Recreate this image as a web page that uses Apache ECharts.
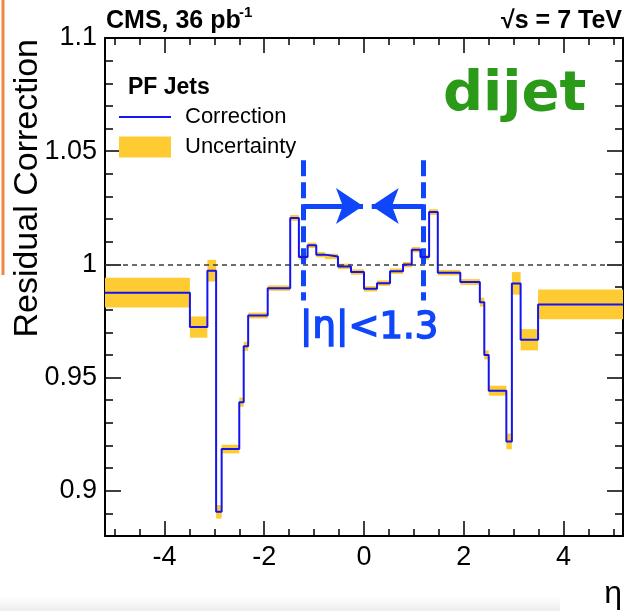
<!DOCTYPE html>
<html><head><meta charset="utf-8">
<script src="https://cdn.jsdelivr.net/npm/echarts@6/dist/echarts.min.js"></script>
<style>html,body{margin:0;padding:0;background:#fff}#c{width:625px;height:611px}</style>
</head><body><div id="c"></div>
<script>
// ---- data ----
const binEdges = [-5.191, -3.489, -3.139, -2.964, -2.853, -2.5, -2.411, -2.322, -1.93, -1.479, -1.305, -1.131, -0.957, -0.783, -0.522, -0.261, 0, 0.261, 0.522, 0.783, 0.957, 1.131, 1.305, 1.479, 1.93, 2.322, 2.411, 2.5, 2.853, 2.964, 3.139, 3.489, 5.191];
const correction = [0.9875, 0.9723, 0.9972, 0.8907, 0.9184, 0.9391, 0.9638, 0.9774, 0.9895, 1.0205, 1.0032, 1.0084, 1.0043, 1.0035, 0.9991, 0.9966, 0.9892, 0.9917, 0.9970, 0.9999, 1.0065, 1.0032, 1.0231, 0.9963, 0.9922, 0.9833, 0.9600, 0.9442, 0.9218, 0.9916, 0.9667, 0.9823];
const uncertainty = [0.0066, 0.0047, 0.0048, 0.0030, 0.0019, 0.0020, 0.0020, 0.0013, 0.0012, 0.0013, 0.0012, 0.0012, 0.0012, 0.0012, 0.0012, 0.0012, 0.0012, 0.0012, 0.0012, 0.0012, 0.0012, 0.0012, 0.0013, 0.0012, 0.0013, 0.0020, 0.0020, 0.0022, 0.0035, 0.0050, 0.0047, 0.0066];
const xMajorTicks = [-4, -2, 0, 2, 4];
const xMinorTicks = [-5, -4.5, -4, -3.5, -3, -2.5, -2, -1.5, -1, -0.5, 0, 0.5, 1, 1.5, 2, 2.5, 3, 3.5, 4, 4.5, 5];
const yMajorTicks = [0.9, 0.95, 1, 1.05, 1.1];
const yMinorTicks = [0.88, 0.89, 0.9, 0.91, 0.92, 0.93, 0.94, 0.95, 0.96, 0.97, 0.98, 0.99, 1, 1.01, 1.02, 1.03, 1.04, 1.05, 1.06, 1.07, 1.08, 1.09, 1.1];
// annotation (data coordinates)
const bracketEta = [-1.216, 1.188];
const bracketRange = [1.046, 0.984];
const arrowY = 1.0258;
const arrowTip = [-0.02, 0.155];
const refLine = 1;

const X_RANGE = [-5.191, 5.191];
const Y_RANGE = [0.88, 1.1];

const lineData = binEdges.slice(0, -1).map((e, i) => [e, correction[i]]);
lineData.push([binEdges[binEdges.length - 1], correction[correction.length - 1]]);
const bandData = correction.map((v, i) => [binEdges[i], binEdges[i + 1], v, uncertainty[i]]);

const FONT = "'Liberation Sans', Arial, Helvetica, sans-serif";
const HAND = "'Comic Sans MS', 'DejaVu Sans', sans-serif";
const BLUE = '#0f46fa';

function xAx(pos, ticks, len, labels, line) {
  return {
    type: 'value', gridIndex: 0, position: pos, min: X_RANGE[0], max: X_RANGE[1],
    axisLine: { show: line, onZero: false, lineStyle: { color: '#000', width: 2 } },
    axisTick: { show: true, inside: true, length: len, customValues: ticks, lineStyle: { color: '#000', width: 1.5 } },
    axisLabel: { show: labels, customValues: ticks, color: '#000', fontSize: 27, fontFamily: FONT, margin: 8 },
    splitLine: { show: false }
  };
}
function yAx(pos, ticks, len, labels, line) {
  return {
    type: 'value', gridIndex: 0, position: pos, min: Y_RANGE[0], max: Y_RANGE[1],
    axisLine: { show: line, onZero: false, lineStyle: { color: '#000', width: 2 } },
    axisTick: { show: true, inside: true, length: len, customValues: ticks, lineStyle: { color: '#000', width: 1.5 } },
    axisLabel: { show: labels, customValues: ticks, color: '#000', fontSize: 27, fontFamily: FONT, margin: 8 },
    splitLine: { show: false }
  };
}

const chart = echarts.init(document.getElementById('c'), null, { renderer: 'canvas' });
chart.setOption({
  animation: false,
  backgroundColor: '#fff',
  grid: { left: 105, top: 38, width: 518, height: 498, containLabel: false },
  xAxis: [
    xAx('bottom', xMajorTicks, 15, true, true),
    xAx('bottom', xMinorTicks, 7, false, false),
    xAx('top', xMajorTicks, 15, false, true),
    xAx('top', xMinorTicks, 7, false, false)
  ],
  yAxis: [
    yAx('left', yMajorTicks, 16, true, true),
    yAx('left', yMinorTicks, 8, false, false),
    yAx('right', yMajorTicks, 16, false, true),
    yAx('right', yMinorTicks, 8, false, false)
  ],
  legend: {
    orient: 'vertical', left: 118, top: 106, itemWidth: 52, itemHeight: 21, itemGap: 8, padding: 0,
    textStyle: { fontSize: 22, fontFamily: FONT, color: '#000', padding: [0, 0, 0, 9] },
    data: [
      { name: 'Correction', itemStyle: { opacity: 0 } },
      { name: 'Uncertainty', icon: 'rect' }
    ]
  },
  series: [
    {
      name: 'Uncertainty', type: 'custom', xAxisIndex: 0, yAxisIndex: 0, z: 2, clip: true,
      itemStyle: { color: '#ffcb33' },
      encode: { x: [0, 1], y: [2] },
      data: bandData,
      renderItem: function (params, api) {
        const p1 = api.coord([api.value(0), api.value(2) + api.value(3)]);
        const p2 = api.coord([api.value(1), api.value(2) - api.value(3)]);
        return { type: 'rect', shape: { x: p1[0], y: p1[1], width: p2[0] - p1[0], height: Math.max(p2[1] - p1[1], 3) }, style: { fill: '#ffcb33' } };
      }
    },
    {
      name: 'Correction', type: 'line', xAxisIndex: 0, yAxisIndex: 0, z: 5, step: 'end',
      symbol: 'none', showSymbol: false, data: lineData,
      lineStyle: { color: '#1414f0', width: 2 }, itemStyle: { color: '#1414f0' },
      markLine: {
        silent: true, symbol: ['none', 'none'], label: { show: false }, animation: false,
        data: [
          { yAxis: refLine, lineStyle: { color: '#3c3c3c', type: [5, 4], width: 1.5 } },
          [{ coord: [bracketEta[0], bracketRange[0]], lineStyle: { color: BLUE, width: 5, type: [16, 6] } }, { coord: [bracketEta[0], bracketRange[1]] }],
          [{ coord: [bracketEta[1], bracketRange[0]], lineStyle: { color: BLUE, width: 5, type: [16, 6] } }, { coord: [bracketEta[1], bracketRange[1]] }],
          [{ coord: [bracketEta[0], arrowY], lineStyle: { color: BLUE, width: 5, type: 'solid' } }, { coord: [arrowTip[0], arrowY], symbol: 'arrow', symbolSize: [27, 27] }],
          [{ coord: [bracketEta[1], arrowY], lineStyle: { color: BLUE, width: 5, type: 'solid' } }, { coord: [arrowTip[1], arrowY], symbol: 'arrow', symbolSize: [27, 27] }]
        ]
      }
    }
  ],
  graphic: [
    { type: 'rect', shape: { x: 0, y: 596, width: 560, height: 15 }, style: { fill: new echarts.graphic.LinearGradient(0, 0, 0, 1, [{ offset: 0, color: 'rgba(0,0,0,0)' }, { offset: 1, color: 'rgba(0,0,0,0.07)' }]) }, silent: true },
    { type: 'line', shape: { x1: 3, y1: 0, x2: 3, y2: 275 }, style: { stroke: '#f2853f', lineWidth: 3 }, silent: true },
    { type: 'text', x: 28, y: 39, rotation: Math.PI / 2, style: { text: 'Residual Correction', font: '34px ' + FONT, fill: '#000', textAlign: 'right', textVerticalAlign: 'middle' } },
    { type: 'text', x: 106, y: 21, style: { text: 'CMS, 36 pb', font: 'bold 25px ' + FONT, fill: '#000', textAlign: 'left', textVerticalAlign: 'middle' } },
    { type: 'text', x: 239, y: 13, style: { text: '-1', font: 'bold 15px ' + FONT, fill: '#000', textAlign: 'left', textVerticalAlign: 'middle' } },
    { type: 'text', x: 622, y: 21, style: { text: '√s = 7 TeV', font: 'bold 25px ' + FONT, fill: '#000', textAlign: 'right', textVerticalAlign: 'middle' } },
    { type: 'text', x: 128, y: 88, style: { text: 'PF Jets', font: 'bold 23px ' + FONT, fill: '#000', textAlign: 'left', textVerticalAlign: 'middle' } },
    { type: 'text', x: 443, y: 95, style: { text: 'dijet', font: 'bold 56px ' + HAND, fill: '#2a9a18', textAlign: 'left', textVerticalAlign: 'middle' } },
    { type: 'text', x: 300, y: 328, style: { text: '|η|<1.3', font: '37px ' + HAND, fill: BLUE, stroke: BLUE, lineWidth: 1.5, textAlign: 'left', textVerticalAlign: 'middle' } },
    { type: 'text', x: 622, y: 594, style: { text: 'η', font: '32px ' + FONT, fill: '#000', textAlign: 'right', textVerticalAlign: 'middle' } }
  ]
});
</script></body></html>
